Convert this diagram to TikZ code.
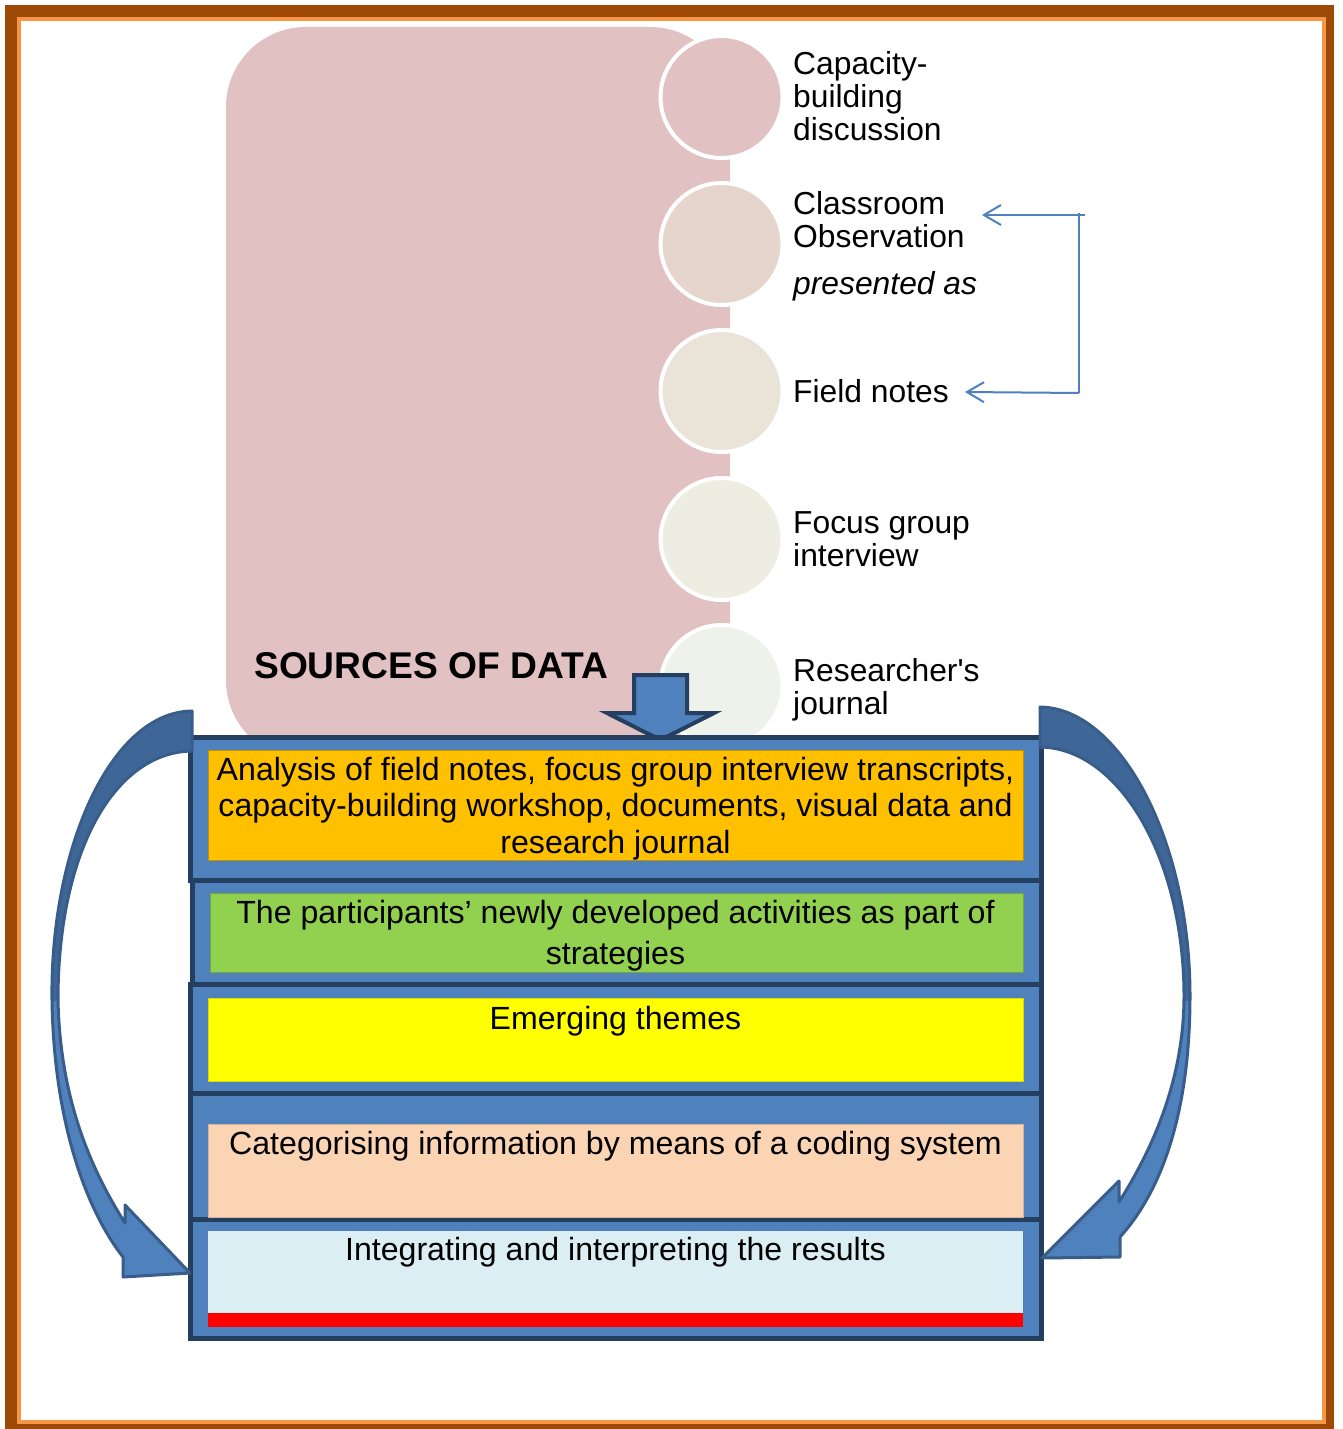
\documentclass[tikz,border=0pt]{standalone}
\usepackage{fontspec}
\setmainfont{Liberation Sans}
\usetikzlibrary{arrows.meta}
\definecolor{framebrown}{HTML}{9E4A06}
\definecolor{frameorange}{HTML}{F79646}
\definecolor{pinkbg}{HTML}{E2C1C3}
\definecolor{cA}{HTML}{E2C1C3}
\definecolor{cB}{HTML}{E6D5CC}
\definecolor{cC}{HTML}{EAE3D8}
\definecolor{cD}{HTML}{EDEDE2}
\definecolor{cE}{HTML}{EFF2EA}
\definecolor{accblue}{HTML}{4F81BD}
\definecolor{darkbord}{HTML}{243F60}
\definecolor{arrline}{HTML}{385D8A}
\definecolor{arrdark}{HTML}{3E6798}
\definecolor{boxorange}{HTML}{FFC000}
\definecolor{boxgreen}{HTML}{92D050}
\definecolor{boxyellow}{HTML}{FFFF00}
\definecolor{boxpeach}{HTML}{FBD4B4}
\definecolor{boxlblue}{HTML}{DBEEF3}
\definecolor{boxred}{HTML}{FF0000}
\newcommand{\pathLeftArrow}{(192,711) .. controls (110,712) and (50,850) .. (52,1000)
  .. controls (54,1130) and (90,1215) .. (123,1257) -- (123,1277) -- (190,1273) -- (125,1205) -- (125,1223)
  .. controls (85,1160) and (60,1090) .. (58,1000)
  .. controls (58,850) and (115,752) .. (192,751) -- cycle}
\newcommand{\pathRightArrow}{(1040,707) .. controls (1120,708) and (1190,840) .. (1190,996)
  .. controls (1190,1120) and (1158,1195) .. (1120,1237) -- (1120,1257) -- (1042,1258) -- (1119,1181) -- (1119,1202)
  .. controls (1152,1150) and (1184,1080) .. (1184,996)
  .. controls (1184,860) and (1120,748) .. (1040,747) -- cycle}
\begin{document}
\begin{tikzpicture}[x=1pt,y=-1pt,
  srclabel/.style={anchor=west, inner sep=0, align=left, font=\fontsize{31.8}{33}\selectfont},
  srcsingle/.style={anchor=base west, inner sep=0, font=\fontsize{31.8}{33}\selectfont},
  dot/.style={circle, minimum size=122, inner sep=0, draw=white, line width=4},
  section/.style={fill=accblue, draw=darkbord, line width=5},
  inner/.style={line width=0.8},
  boxtext/.style={inner sep=0, align=center, font=\fontsize{32.1}{36.5}\selectfont},
  bracket/.style={draw=accblue, line width=2},
  bracketarrow/.style={bracket, -{Straight Barb[length=17pt,width=20pt,line width=2pt]}},
  bigarrow/.style={draw=arrline, line width=3, line join=round}
]
\useasboundingbox (0,0) rectangle (1343,1429);
% frame
\fill[framebrown] (5,5) rectangle (1334,1440);
\fill[frameorange] (17,17) rectangle (1326,1424);
\fill[white] (21,21) rectangle (1322,1420);

% big rounded background
\fill[pinkbg, rounded corners=80] (226,27) rectangle (730,760);

% circles
\node[dot, fill=cA] (c1) at (721.5,97) {};
\node[dot, fill=cB] (c2) at (721.5,244) {};
\node[dot, fill=cC] (c3) at (721.5,391) {};
\node[dot, fill=cD] (c4) at (721.5,539) {};
\node[dot, fill=cE] (c5) at (721.5,686) {};

% labels
\node[srclabel] (l1) at (793,96) {Capacity-\\building\\discussion};
\node[srclabel] (l2) at (793,220) {Classroom\\Observation};
\node[srcsingle, font=\fontsize{31.8}{33}\selectfont\itshape] (l2b) at (793,294) {presented as};
\node[srcsingle] (l3) at (793,402) {Field notes};
\node[srclabel] (l4) at (793,539) {Focus group\\interview};
\node[srclabel] (l5) at (793,690) {Researcher\textquotesingle s\\journal};

\node[anchor=base west, inner sep=0, font=\fontsize{37.2}{40}\selectfont\bfseries] (src) at (254,678) {SOURCES OF DATA};

% bracket connector
\coordinate (bt) at (1085,215);
\coordinate (vt) at (1079,213);
\coordinate (vb) at (1079,393);
\coordinate (ta) at (982,215);
\coordinate (tb) at (965,392);
\draw[bracketarrow] (bt) -- (ta);
\draw[bracket] (vt) -- (vb);
\draw[bracketarrow] (vb) -- (tb);

% down arrow
\draw[fill=accblue, draw=darkbord, line width=4, line join=miter]
  (634,675) -- (687,675) -- (687,713) -- (714,713) -- (660.5,740) -- (607,713) -- (634,713) -- cycle;

% stacked sections
\draw[section] (190,737) rectangle (1041,880);
\draw[section] (192,880) rectangle (1041,984);
\draw[section] (190,984) rectangle (1041,1093);
\draw[section] (190,1093) rectangle (1041,1219);
\draw[section] (190,1219) rectangle (1041,1338);

\filldraw[inner, fill=boxorange, draw=boxorange!75!black] (208,750) rectangle (1023,860);
\filldraw[inner, fill=boxgreen, draw=boxgreen!80!black] (210,893) rectangle (1023,972);
\filldraw[inner, fill=boxyellow, draw=boxyellow!85!black] (208,998) rectangle (1023,1081);
\filldraw[inner, fill=boxpeach, draw=boxpeach!85!black] (208,1124) rectangle (1023,1217);
\fill[boxlblue] (208,1231) rectangle (1023,1313);
\fill[boxred] (208,1313) rectangle (1023,1327);

\node[boxtext] (t1) at (615.5,808.5) {Analysis of field notes, focus group interview transcripts,\\capacity-building workshop, documents, visual data and\\research journal};
\node[boxtext, font=\fontsize{32.1}{41}\selectfont] (t2) at (615.5,935.5) {The participants’ newly developed activities as part of\\strategies};
\node[boxtext, anchor=base] (t3) at (615.5,1029.5) {Emerging themes};
\node[boxtext, anchor=base] (t4) at (615.5,1154.5) {Categorising information by means of a coding system};
\node[boxtext, anchor=base] (t5) at (615.5,1260.5) {Integrating and interpreting the results};

% curved arrows
\fill[accblue] \pathLeftArrow;
\begin{scope}
  \clip (0,0) rectangle (1343,1000);
  \fill[arrdark] \pathLeftArrow;
\end{scope}
\draw[bigarrow] \pathLeftArrow;

\fill[accblue] \pathRightArrow;
\begin{scope}
  \clip (0,0) rectangle (1343,1000);
  \fill[arrdark] \pathRightArrow;
\end{scope}
\draw[bigarrow] \pathRightArrow;
\end{tikzpicture}
\end{document}
